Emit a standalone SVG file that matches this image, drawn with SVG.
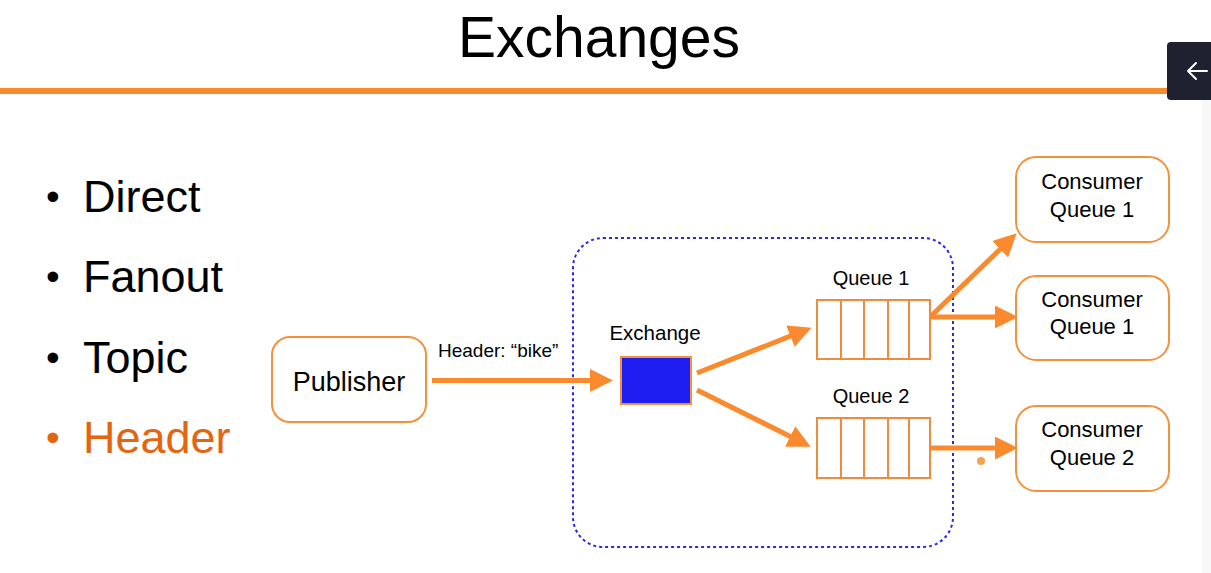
<svg xmlns="http://www.w3.org/2000/svg" width="1211" height="573" viewBox="0 0 1211 573">
<style>
.t{font-family:"Liberation Sans",Arial,sans-serif;fill:#000}
.box{fill:#fff;stroke:#f5913a;stroke-width:2}
.conn{stroke:#fb8a2e;stroke-width:5;fill:none}
.q{fill:#fff;stroke:#f28a3e;stroke-width:2}
.qd{stroke:#f28a3e;stroke-width:2}
.bul{font-size:39px}
</style>
<defs>
<marker id="ah" markerUnits="userSpaceOnUse" markerWidth="23" markerHeight="23" refX="8" refY="11.5" orient="auto" viewBox="0 0 23 23">
<path d="M0,0 L23,11.5 L0,23 z" fill="#fb8a2e"/>
</marker>
</defs>
<rect width="1211" height="573" fill="#fff"/>
<rect x="1202" y="100" width="9" height="473" fill="#f8f8f8"/>
<g id="title">
<text class="t" x="599" y="57" font-size="57" text-anchor="middle">Exchanges</text>
<rect x="0" y="88" width="1170" height="6" fill="#fb8a2e"/>
</g>
<g id="back-button">
<rect x="1167" y="42" width="50" height="58" rx="4" fill="#1f2030"/>
<path d="M1188,71 H1207 M1196,63 L1188,71 L1196,79" stroke="#fff" stroke-width="2" fill="none" stroke-linecap="round" stroke-linejoin="round"/>
</g>
<g id="bullets">
<text class="t bul" x="46" y="210">•</text>
<text class="t" x="83" y="212" font-size="45">Direct</text>
<text class="t bul" x="46" y="290">•</text>
<text class="t" x="83" y="292" font-size="45">Fanout</text>
<text class="t bul" x="46" y="371">•</text>
<text class="t" x="83" y="373" font-size="45">Topic</text>
<text class="t bul" x="46" y="451" style="fill:#e3650f">•</text>
<text class="t" x="83" y="453" font-size="45" style="fill:#e3650f">Header</text>
</g>
<g id="exchange-container">
<rect x="573" y="238" width="380" height="309" rx="30" fill="none" stroke="#2a2ae6" stroke-width="2" stroke-dasharray="3,3"/>
</g>
<g id="connectors">
<line class="conn" x1="432" y1="380.5" x2="598" y2="380.5" marker-end="url(#ah)"/>
<line class="conn" x1="697" y1="373" x2="797.8" y2="333.2" marker-end="url(#ah)"/>
<line class="conn" x1="697" y1="390" x2="797.3" y2="440" marker-end="url(#ah)"/>
<line class="conn" x1="929" y1="318" x2="1005.9" y2="243.7" marker-end="url(#ah)"/>
<line class="conn" x1="929" y1="317" x2="1003" y2="317" marker-end="url(#ah)"/>
<line class="conn" x1="929" y1="448" x2="1003" y2="448" marker-end="url(#ah)"/>
<text class="t" x="438" y="357" font-size="19">Header: “bike”</text>
</g>
<g id="publisher">
<rect class="box" x="272" y="337" width="154" height="85" rx="18"/>
<text class="t" x="349" y="391" font-size="27" text-anchor="middle">Publisher</text>
</g>
<g id="exchange">
<text class="t" x="655" y="340" font-size="20.5" text-anchor="middle">Exchange</text>
<rect x="621" y="357" width="70" height="47" fill="#1e1ef2" stroke="#f5913a" stroke-width="2"/>
</g>
<g id="queue1">
<text class="t" x="871" y="285" font-size="20" text-anchor="middle">Queue 1</text>
<rect class="q" x="817" y="300" width="113" height="59"/>
<path class="qd" d="M841,300 V359 M864,300 V359 M888,300 V359 M909,300 V359"/>
</g>
<g id="queue2">
<text class="t" x="871" y="403" font-size="20" text-anchor="middle">Queue 2</text>
<rect class="q" x="817" y="418" width="113" height="60"/>
<path class="qd" d="M841,418 V478 M864,418 V478 M888,418 V478 M909,418 V478"/>
</g>
<g id="consumer1">
<rect class="box" x="1016" y="157" width="153" height="85" rx="20"/>
<text class="t" x="1092" y="189" font-size="22" text-anchor="middle">Consumer</text>
<text class="t" x="1092" y="217" font-size="22" text-anchor="middle">Queue 1</text>
</g>
<g id="consumer2">
<rect class="box" x="1016" y="276" width="153" height="84" rx="20"/>
<text class="t" x="1092" y="307" font-size="22" text-anchor="middle">Consumer</text>
<text class="t" x="1092" y="334" font-size="22" text-anchor="middle">Queue 1</text>
</g>
<g id="consumer3">
<rect class="box" x="1016" y="406" width="153" height="85" rx="20"/>
<text class="t" x="1092" y="437" font-size="22" text-anchor="middle">Consumer</text>
<text class="t" x="1092" y="465" font-size="22" text-anchor="middle">Queue 2</text>
</g>
<circle cx="981" cy="461" r="4" fill="#f7a24c"/>
</svg>
